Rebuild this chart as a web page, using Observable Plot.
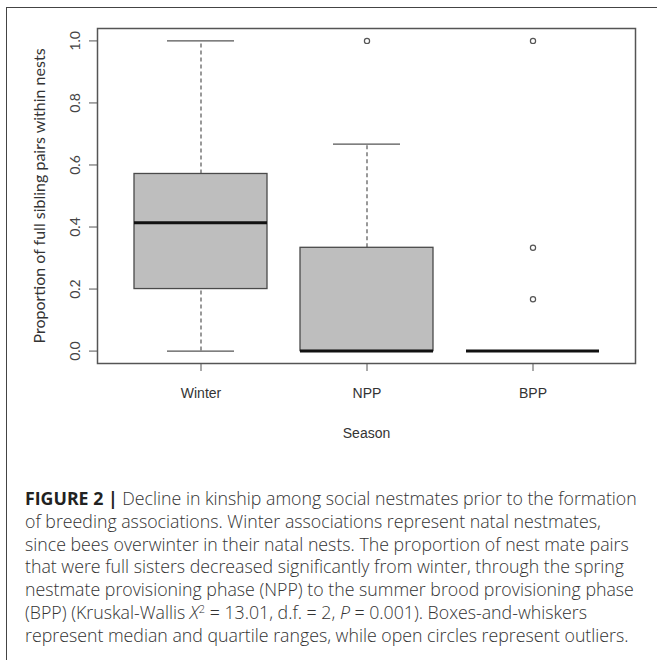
<!DOCTYPE html>
<html>
<head>
<meta charset="utf-8">
<script src="https://cdn.jsdelivr.net/npm/d3@7"></script>
<script src="https://cdn.jsdelivr.net/npm/@observablehq/plot@0.6"></script>
<style>
  html, body { margin: 0; padding: 0; background: #fff; }
  #page { position: relative; width: 657px; height: 660px; overflow: hidden; background: #fff; }
  #topline { position: absolute; left: 7px; top: 7px; width: 650px; height: 0; border-top: 1.6px solid #444; }
  #leftline { position: absolute; left: 6px; top: 7px; width: 0; height: 653px; border-left: 1.6px solid #444; }
  #chart { position: absolute; left: 0; top: 0; }
  #caption { position: absolute; left: 25px; top: 487px; font-family: "Open Sans", Roboto, "Liberation Sans", sans-serif; font-weight: 300; color: #333; font-size: 15px; line-height: 22.8px; white-space: nowrap; }
  #caption b { font-weight: 700; color: #222; }
  #caption sup { font-size: 0.62em; line-height: 0; vertical-align: 0.55em; }
</style>
</head>
<body>
<div id="page">
  <div id="topline"></div>
  <div id="leftline"></div>
  <div id="chart"></div>
  <div id="caption">
    <div><span id="l1"><b>FIGURE 2 |</b> Decline in kinship among social nestmates prior to the formation</span></div>
    <div>of breeding associations. Winter associations represent natal nestmates,</div>
    <div>since bees overwinter in their natal nests. The proportion of nest mate pairs</div>
    <div>that were full sisters decreased significantly from winter, through the spring</div>
    <div>nestmate provisioning phase (NPP) to the summer brood provisioning phase</div>
    <div>(BPP) (Kruskal-Wallis <i>X</i><sup>2</sup> = 13.01, d.f. = 2, <i>P</i> = 0.001). Boxes-and-whiskers</div>
    <div>represent median and quartile ranges, while open circles represent outliers.</div>
  </div>
</div>
<script>
// ---- data ----
const seasons = ["Winter", "NPP", "BPP"];
const whiskerLow = [0, 0, 0];
const q1 = [0.2, 0, 0];
const median = [0.414, 0, 0];
const q3 = [0.571, 0.333, 0];
const whiskerHigh = [1.0, 0.667, 0];
const outlierSeason = ["NPP", "BPP", "BPP", "BPP"];
const outlierValue = [1.0, 1.0, 0.333, 0.167];
const yTicks = [0, 0.2, 0.4, 0.6, 0.8, 1.0];
const yTickLabels = ["0.0", "0.2", "0.4", "0.6", "0.8", "1.0"];
const xTitle = "Season";
const yTitle = "Proportion of full sibling pairs within nests";

const boxes = seasons.map((s, i) => ({season: s, lo: whiskerLow[i], q1: q1[i], median: median[i], q3: q3[i], hi: whiskerHigh[i]}));
const outliers = outlierSeason.map((s, i) => ({season: s, value: outlierValue[i]}));

const boxStroke = "#4a4a4a";
const cap = 33;

const chart = Plot.plot({
  width: 657,
  height: 460,
  marginLeft: 97,
  marginRight: 22,
  marginTop: 28,
  marginBottom: 97,
  style: {background: "transparent", color: "#3a3a3a", fontFamily: "'Liberation Sans', Arial, sans-serif"},
  x: {type: "band", domain: seasons, paddingInner: 0.2, paddingOuter: 0.22, label: null},
  y: {domain: [-0.04, 1.04], label: null},
  marks: [
    Plot.ruleX(boxes, {x: "season", y1: "q3", y2: "hi", stroke: "#555", strokeWidth: 1.2, strokeDasharray: "4,3"}),
    Plot.ruleX(boxes, {x: "season", y1: "lo", y2: "q1", stroke: "#555", strokeWidth: 1.2, strokeDasharray: "4,3"}),
    Plot.tickY(boxes, {x: "season", y: "hi", insetLeft: cap, insetRight: cap, stroke: "#555", strokeWidth: 1.3}),
    Plot.tickY(boxes, {x: "season", y: "lo", insetLeft: cap, insetRight: cap, stroke: "#555", strokeWidth: 1.3}),
    Plot.barY(boxes, {x: "season", y1: "q1", y2: "q3", fill: "#bebebe", stroke: boxStroke, strokeWidth: 1.3}),
    Plot.tickY(boxes, {x: "season", y: "median", stroke: "#111", strokeWidth: 3}),
    Plot.dot(outliers, {x: "season", y: "value", r: 2.6, stroke: "#555", strokeWidth: 1.2, fill: "none"}),
    Plot.frame({stroke: "#555", strokeWidth: 1.5}),
    Plot.axisY({ticks: yTicks, tickSize: 8, tickFormat: () => "", stroke: "#555"}),
    Plot.text(yTicks, {y: d => d, text: (d, i) => yTickLabels[i], frameAnchor: "left", dx: -22, rotate: -90,
      textAnchor: "middle", lineAnchor: "middle", fontSize: 14, fill: "#444", fontFamily: "Lato, 'Open Sans', sans-serif"}),
    Plot.axisX({tickSize: 8, tickPadding: 17, fontSize: 14, label: null, stroke: "#555", fill: "#333"}),
    Plot.text([xTitle], {text: d => d, frameAnchor: "bottom", dy: 74, fontSize: 14, fill: "#333"}),
    Plot.text([yTitle], {text: d => d, frameAnchor: "left", dx: -58, rotate: -90, fontSize: 16, fill: "#333",
      textAnchor: "middle", lineAnchor: "middle", fontFamily: "Lato, 'Open Sans', sans-serif"})
  ]
});
document.getElementById("chart").appendChild(chart);

// fit caption width to the reference line width (first line spans ~612px)
const l1 = document.getElementById("l1");
const w = l1.getBoundingClientRect().width;
const cap0 = document.getElementById("caption");
const fs = parseFloat(getComputedStyle(cap0).fontSize);
cap0.style.fontSize = (fs * 612 / w).toFixed(2) + "px";
</script>
</body>
</html>
